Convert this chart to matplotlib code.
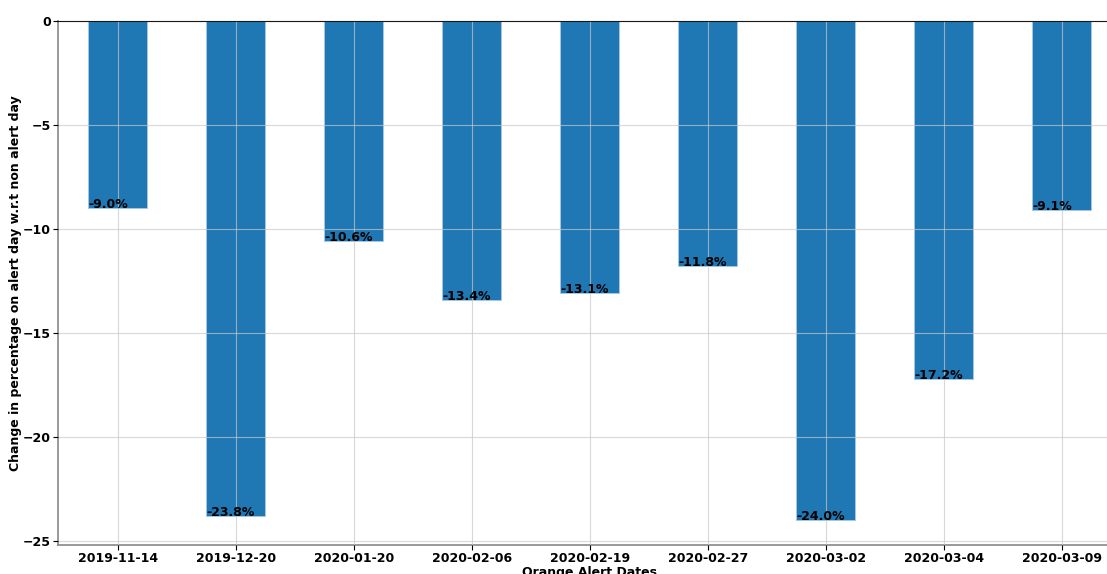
import matplotlib
matplotlib.use('Agg')
import matplotlib.pyplot as plt
import numpy as np

dates = ['2019-11-14', '2019-12-20', '2020-01-20', '2020-02-06', '2020-02-19',
         '2020-02-27', '2020-03-02', '2020-03-04', '2020-03-09']
change = [-9.0, -23.8, -10.6, -13.4, -13.1, -11.8, -24.0, -17.2, -9.1]

fig = plt.figure(figsize=(11.07, 5.74), dpi=100)
ax = fig.add_axes([0.0524, 0.0505, 0.961, 0.9129])

x = np.arange(len(dates))
bars = ax.bar(x, change, width=0.5, color='#1f77b4', edgecolor='#a9c9e6', linewidth=0.6)

for b, v in zip(bars, change):
    ax.text(b.get_x(), v, '%.1f%%' % v, fontsize=9, fontweight='bold', color='black')

ax.set_xticks(x)
ax.set_xticklabels(dates, fontsize=9, fontweight='bold')
ax.tick_params(axis='x', pad=1.5)
ax.set_xlim(-0.508, len(dates) - 0.492)
ax.set_ylim(min(change) * 1.05, 0)
ax.set_yticks([0, -5, -10, -15, -20, -25])
ax.tick_params(axis='y', labelsize=9, pad=1.5)
for lab in ax.get_yticklabels():
    lab.set_fontweight('bold')

ax.set_axisbelow(False)
ax.grid(True, color='#c8c8c8', alpha=0.7, linewidth=0.8)
ax.axhline(0, color='black', linewidth=1.2, zorder=10)
for s in ['left', 'bottom']:
    ax.spines[s].set_color('#888888')
    ax.spines[s].set_linewidth(1.2)

ax.set_xlabel('Orange Alert Dates', fontsize=9, fontweight='bold', labelpad=1)
ax.set_ylabel('Change in percentage on alert day w.r.t non alert day', fontsize=9, fontweight='bold')
ax.yaxis.set_label_coords(-0.0335, 0.5)

plt.savefig('out.png', dpi=100)
